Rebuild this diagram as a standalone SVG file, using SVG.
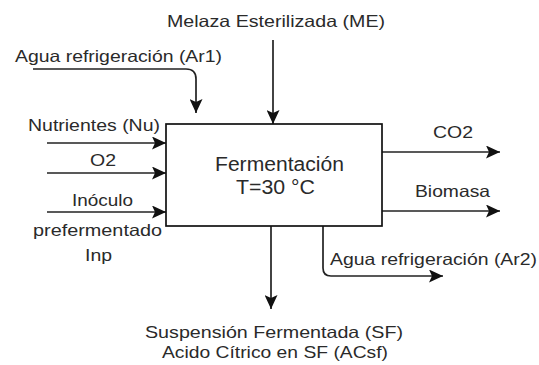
<svg xmlns="http://www.w3.org/2000/svg" width="539" height="365" viewBox="0 0 539 365">
<defs>
<marker id="ah" markerUnits="userSpaceOnUse" markerWidth="15" markerHeight="13" refX="14" refY="6.5" orient="auto" viewBox="0 0 15 13">
<path d="M0,0 L14,6.5 L0,13 L3,6.5 z" fill="#111"/>
</marker>
</defs>
<style>
.t{font-family:"Liberation Sans",Arial,sans-serif;font-size:16.5px;fill:#2a2a2a;}
.c{font-family:"Liberation Sans",Arial,sans-serif;font-size:20px;fill:#2a2a2a;}
.ln{fill:none;stroke:#222;stroke-width:1.7;marker-end:url(#ah);}
.box{fill:#fff;stroke:#111;stroke-width:1.7;}
</style>
<rect width="539" height="365" fill="#fff"/>
<g id="connectors">
<path class="ln" d="M273,40 V124"/>
<path class="ln" d="M33,69 H186 Q196,69 196,79 V113"/>
<path class="ln" d="M47,143 H166"/>
<path class="ln" d="M47,173 H166"/>
<path class="ln" d="M47,212 H166"/>
<path class="ln" d="M382,152 H500"/>
<path class="ln" d="M382,211 H500"/>
<path class="ln" d="M323,226 V268 Q323,276 331,276 H443"/>
<path class="ln" d="M271,226 V309"/>
</g>
<g id="fermentacion">
<rect class="box" x="166" y="124" width="216" height="102"/>
<text class="c" x="215" y="171" textLength="129" lengthAdjust="spacingAndGlyphs">Fermentación</text>
<text class="c" x="236" y="194" textLength="79" lengthAdjust="spacingAndGlyphs">T=30 °C</text>
</g>
<g id="labels">
<text class="t" x="167" y="27" textLength="218" lengthAdjust="spacingAndGlyphs">Melaza Esterilizada (ME)</text>
<text class="t" x="15" y="62" textLength="207" lengthAdjust="spacingAndGlyphs">Agua refrigeración (Ar1)</text>
<text class="t" x="28" y="131" textLength="132" lengthAdjust="spacingAndGlyphs">Nutrientes (Nu)</text>
<text class="t" x="90" y="166" textLength="26" lengthAdjust="spacingAndGlyphs">O2</text>
<text class="t" x="72" y="206" textLength="61" lengthAdjust="spacingAndGlyphs">Inóculo</text>
<text class="t" x="33" y="236" textLength="129" lengthAdjust="spacingAndGlyphs">prefermentado</text>
<text class="t" x="85" y="261" textLength="27" lengthAdjust="spacingAndGlyphs">Inp</text>
<text class="t" x="433" y="138" textLength="40" lengthAdjust="spacingAndGlyphs">CO2</text>
<text class="t" x="415" y="197" textLength="75" lengthAdjust="spacingAndGlyphs">Biomasa</text>
<text class="t" x="330" y="265" textLength="207" lengthAdjust="spacingAndGlyphs">Agua refrigeración (Ar2)</text>
<text class="t" x="145" y="338" textLength="258" lengthAdjust="spacingAndGlyphs">Suspensión Fermentada (SF)</text>
<text class="t" x="162" y="358" textLength="226" lengthAdjust="spacingAndGlyphs">Acido Cítrico en SF (ACsf)</text>
</g>
</svg>
